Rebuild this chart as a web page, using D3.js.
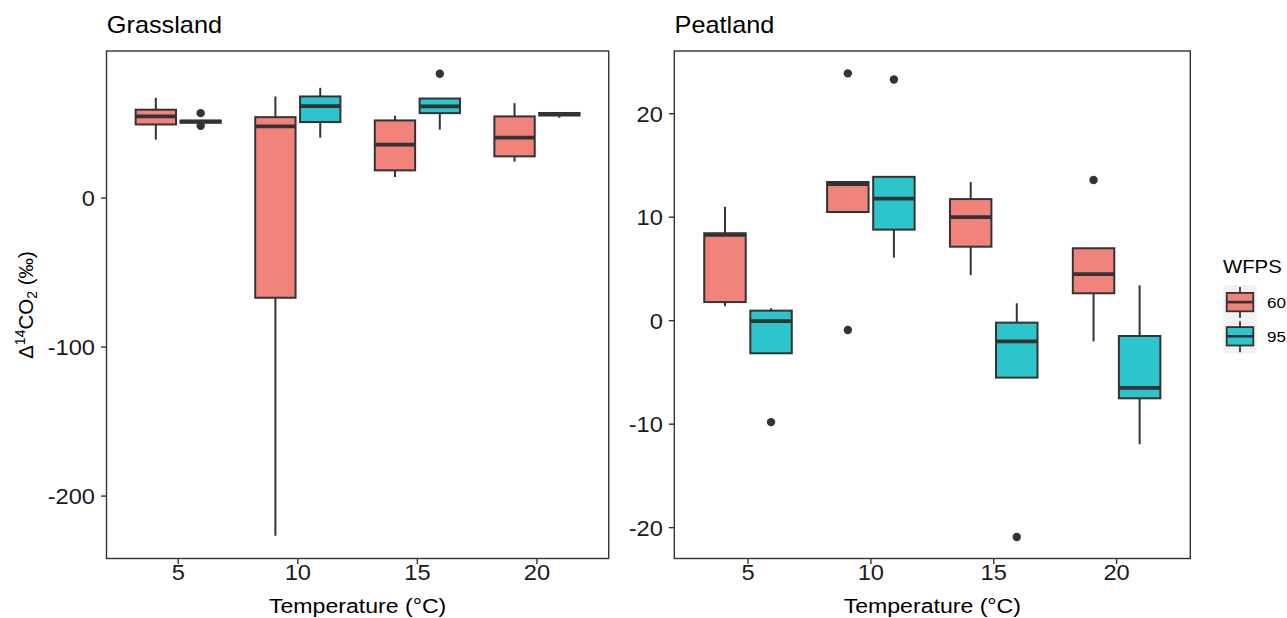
<!DOCTYPE html>
<html>
<head>
<meta charset="utf-8">
<script src="https://cdn.jsdelivr.net/npm/d3@7"></script>
<style>
  html, body { margin: 0; padding: 0; background: #fff; }
  svg { display: block; font-family: "Liberation Sans", Arial, sans-serif; }
</style>
</head>
<body>
<svg id="chart" width="1287" height="618"></svg>
<script>
// temperature groups and WFPS levels
const temps = ["5", "10", "15", "20"];
const wfps = ["60", "95"];

// box stats per temperature: [lower whisker, q1, median, q3, upper whisker]
const grassland60 = [[39.2, 49.4, 54.8, 59.3, 67.3], [-226.6, -66.9, 48.1, 54.3, 68.2], [14.1, 18.6, 35.8, 52.1, 55.2], [24.4, 28.0, 40.5, 54.8, 63.7]];
const grassland95 = [[50.6, 50.6, 51.3, 52.0, 52.0], [40.5, 51.0, 61.7, 68.2, 74.0], [45.9, 57.0, 61.5, 66.8, 66.8], [53.9, 55.4, 56.3, 57.1, 57.1]];
const grasslandOut60 = [[], [], [], []];
const grasslandOut95 = [[57.0, 48.5], [], [83.4], []];

const peatland60 = [[1.4, 1.8, 8.3, 8.45, 11.0], [10.5, 10.5, 13.2, 13.4, 13.4], [4.4, 7.15, 10.0, 11.75, 13.4], [-2.0, 2.65, 4.5, 7.0, 7.0]];
const peatland95 = [[-3.15, -3.15, -0.05, 0.97, 1.2], [6.1, 8.8, 11.8, 13.9, 13.9], [-5.5, -5.5, -2.0, -0.19, 1.68], [-11.95, -7.5, -6.5, -1.48, 3.42]];
const peatlandOut60 = [[], [23.9, -0.9], [], [13.6]];
const peatlandOut95 = [[-9.8], [23.3], [-20.9], []];

const grassTicks = [0, -100, -200];
const peatTicks = [20, 10, 0, -10, -20];

const colors = {"60": "#F2837A", "95": "#2CC5CC"};
const ink = "#333333";
const stretch = 1.1; // text in the picture is a little wider than Arial

const svg = d3.select("#chart");

// text helper: the horizontal stretch is applied round the anchor point
function label(g, x, y, txt, size, anchor, color) {
  return g.append("text")
    .attr("transform", `translate(${x},${y}) scale(${stretch},1)`)
    .attr("text-anchor", anchor || "start")
    .attr("font-size", size)
    .attr("fill", color || "#000")
    .text(txt);
}

function panel(opts) {
  const x = d3.scalePoint().domain(temps).range([opts.left, opts.right]).padding(0.6);
  const y = d3.scaleLinear().domain(opts.domain).range([opts.bottom, opts.top]);
  const step = x.step();
  const boxW = step * 0.375 * 0.9;
  const g = svg.append("g");

  const series = [
    {key: "60", stats: opts.s60, out: opts.o60, dx: -step * 0.1875},
    {key: "95", stats: opts.s95, out: opts.o95, dx: step * 0.1875}
  ];

  series.forEach(s => {
    const grp = g.append("g");
    s.stats.forEach((d, i) => {
      const cx = x(temps[i]) + s.dx;
      grp.append("line")
        .attr("x1", cx).attr("x2", cx)
        .attr("y1", y(d[4])).attr("y2", y(d[3]))
        .attr("stroke", ink).attr("stroke-width", 2);
      grp.append("line")
        .attr("x1", cx).attr("x2", cx)
        .attr("y1", y(d[1])).attr("y2", y(d[0]))
        .attr("stroke", ink).attr("stroke-width", 2);
      grp.append("rect")
        .attr("x", cx - boxW / 2).attr("width", boxW)
        .attr("y", y(d[3])).attr("height", Math.max(0.5, y(d[1]) - y(d[3])))
        .attr("fill", colors[s.key]).attr("stroke", ink).attr("stroke-width", 2);
      grp.append("line")
        .attr("x1", cx - boxW / 2).attr("x2", cx + boxW / 2)
        .attr("y1", y(d[2])).attr("y2", y(d[2]))
        .attr("stroke", ink).attr("stroke-width", 3.8);
      s.out[i].forEach(v => {
        grp.append("circle")
          .attr("cx", cx).attr("cy", y(v)).attr("r", 4.2)
          .attr("fill", ink);
      });
    });
  });

  // panel border
  g.append("rect")
    .attr("x", opts.left).attr("y", opts.top)
    .attr("width", opts.right - opts.left).attr("height", opts.bottom - opts.top)
    .attr("fill", "none").attr("stroke", ink).attr("stroke-width", 1.4);

  // y axis
  opts.ticks.forEach(t => {
    g.append("line")
      .attr("x1", opts.left - 5.5).attr("x2", opts.left)
      .attr("y1", y(t)).attr("y2", y(t))
      .attr("stroke", ink).attr("stroke-width", 1.4);
    label(g, opts.left - 11.5, y(t) + 8, d3.format("d")(t).replace("−", "-"), 21.5, "end", "#1a1a1a");
  });

  // x axis
  temps.forEach(t => {
    g.append("line")
      .attr("x1", x(t)).attr("x2", x(t))
      .attr("y1", opts.bottom).attr("y2", opts.bottom + 5.5)
      .attr("stroke", ink).attr("stroke-width", 1.4);
    label(g, x(t), 580, t, 21.5, "middle", "#1a1a1a");
  });
  label(g, (opts.left + opts.right) / 2, 612.5, "Temperature (°C)", 21, "middle");

  // facet title
  label(g, opts.left + 0.3, 33.3, opts.title, 23, "start");
}

panel({title: "Grassland", left: 106.5, right: 608.7, top: 51, bottom: 558.5,
  domain: [-241.9, 98.7], ticks: grassTicks,
  s60: grassland60, s95: grassland95, o60: grasslandOut60, o95: grasslandOut95});

panel({title: "Peatland", left: 674.3, right: 1190.3, top: 51, bottom: 558.5,
  domain: [-22.98, 26.06], ticks: peatTicks,
  s60: peatland60, s95: peatland95, o60: peatlandOut60, o95: peatlandOut95});

// y axis title
const yt = svg.append("text")
  .attr("transform", "translate(33,305) rotate(-90)")
  .attr("text-anchor", "middle")
  .attr("font-size", 20.5)
  .attr("fill", "#000");
yt.append("tspan").text("Δ");
yt.append("tspan").attr("font-size", 14).attr("dy", -8).text("14");
yt.append("tspan").attr("dy", 8).text("CO");
yt.append("tspan").attr("font-size", 14).attr("dy", 4).text("2");
yt.append("tspan").attr("dy", -4).text(" (‰)");

// legend
const lg = svg.append("g");
label(lg, 1223, 273, "WFPS", 18.5, "start");
wfps.forEach((k, i) => {
  const top = 285 + i * 34.2;
  const cy = top + 17.1;
  lg.append("rect")
    .attr("x", 1223.3).attr("y", top).attr("width", 33.4).attr("height", 34.2)
    .attr("fill", "#F2F2F2");
  lg.append("line")
    .attr("x1", 1240).attr("x2", 1240).attr("y1", cy - 15).attr("y2", cy + 16)
    .attr("stroke", ink).attr("stroke-width", 1.8);
  lg.append("rect")
    .attr("x", 1226.7).attr("width", 26.6).attr("y", cy - 9.2).attr("height", 18.4)
    .attr("fill", colors[k]).attr("stroke", ink).attr("stroke-width", 1.8);
  lg.append("line")
    .attr("x1", 1226.7).attr("x2", 1253.3).attr("y1", cy).attr("y2", cy)
    .attr("stroke", ink).attr("stroke-width", 2.6);
  label(lg, 1267, cy + 5.5, k, 15.5, "start");
});
</script>
</body>
</html>
